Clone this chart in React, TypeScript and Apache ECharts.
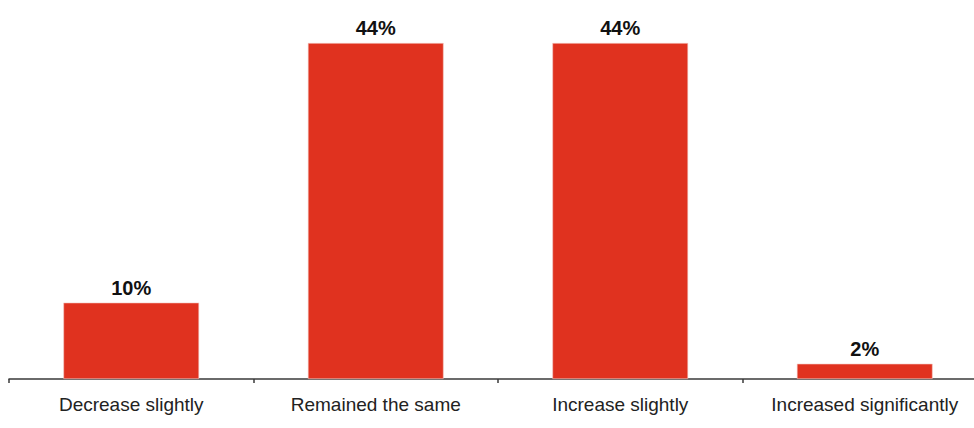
import React, { useEffect, useRef } from "react";
import * as echarts from "echarts";

const categories: string[] = [
  "Decrease slightly",
  "Remained the same",
  "Increase slightly",
  "Increased significantly",
];
const shares: number[] = [10, 44, 44, 2];

const BAR_COLOR = "#E0321F";
const FONT = "'Liberation Sans', Arial, Helvetica, sans-serif";

export default function App() {
  const ref = useRef<HTMLDivElement>(null);

  useEffect(() => {
    if (!ref.current) return;
    const chart = echarts.init(ref.current, null, { renderer: "svg" });
    chart.setOption({
      animation: false,
      backgroundColor: "#ffffff",
      // plot area runs past the right edge of the visible frame
      grid: { left: 9, right: 3, top: 43, bottom: 49, containLabel: false },
      xAxis: {
        type: "category",
        data: categories,
        axisLine: { show: true, lineStyle: { color: "#3a3a3a", width: 1.5 } },
        axisTick: {
          show: true,
          inside: false,
          length: 4,
          alignWithLabel: false,
          lineStyle: { color: "#3a3a3a", width: 1.5 },
        },
        axisLabel: {
          color: "#222222",
          fontFamily: FONT,
          fontSize: 19,
          margin: 16,
          interval: 0,
        },
      },
      yAxis: {
        type: "value",
        min: 0,
        max: 44,
        show: false,
        splitLine: { show: false },
      },
      series: [
        {
          type: "bar",
          data: shares,
          barWidth: "55.5%",
          itemStyle: { color: BAR_COLOR, borderColor: "#f3c9c4", borderWidth: 0.6 },
          label: {
            show: true,
            position: "top",
            distance: 5,
            formatter: (p: any) => `${p.value}%`,
            color: "#111111",
            fontFamily: FONT,
            fontWeight: "bold",
            fontSize: 20,
          },
        },
      ],
    });
    return () => chart.dispose();
  }, []);

  return (
    <div
      style={{
        position: "absolute",
        left: 0,
        top: 0,
        width: 974,
        height: 428,
        overflow: "hidden",
        background: "#ffffff",
      }}
    >
      <div ref={ref} style={{ width: 990, height: 428 }} />
    </div>
  );
}
